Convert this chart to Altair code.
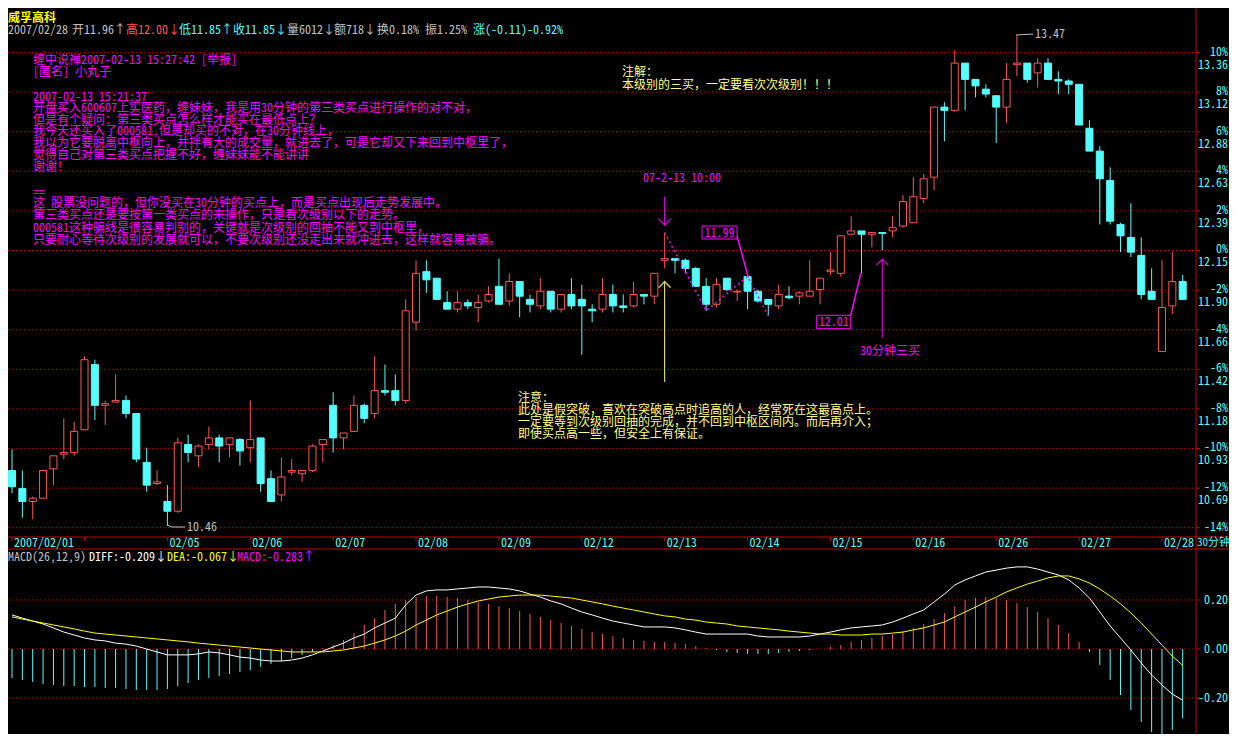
import altair as alt
import pandas as pd

# ---------------- data (30-minute bars, 威孚高科, 2007-02-01 .. 2007-02-28) ----------------
PREV_CLOSE = 12.15

OPEN = [10.80, 10.69, 10.61, 10.63, 10.81, 10.90, 10.91, 11.05, 11.45, 11.20,
        11.22, 11.23, 11.15, 10.85, 10.72, 10.61, 10.55, 10.96, 10.89, 10.96,
        11.00, 10.96, 10.99, 10.94, 11.00, 10.75, 10.65, 10.79, 10.78, 10.80,
        10.96, 11.20, 11.00, 11.04, 11.20, 11.15, 11.29, 11.29, 11.23, 11.71,
        12.02, 11.98, 11.83, 11.79, 11.83, 11.80, 11.84, 11.93, 11.84, 11.96,
        11.85, 11.81, 11.90, 11.79, 11.88, 11.85, 11.79, 11.79, 11.88, 11.81,
        11.81, 11.88, 11.87, 12.09, 12.10, 12.09, 12.04, 11.93, 11.82, 11.98,
        11.895, 11.99, 11.90, 11.85, 11.81, 11.87, 11.87, 11.87, 11.91, 12.02,
        12.01, 12.25, 12.27, 12.25, 12.26, 12.27, 12.30, 12.32, 12.47, 12.60,
        13.03, 13.01, 13.30, 13.20, 13.14, 13.10, 13.03, 13.29, 13.30, 13.24,
        13.30, 13.20, 13.19, 13.17, 12.90, 12.76, 12.58, 12.31, 12.23, 12.12,
        11.90, 11.53, 11.81, 11.96]
HIGH = [10.93, 10.80, 10.64, 10.80, 10.89, 11.12, 11.10, 11.50, 11.48, 11.23,
        11.39, 11.26, 11.15, 10.94, 10.80, 10.71, 11.00, 11.02, 10.96, 11.07,
        11.02, 11.00, 11.00, 11.23, 11.00, 10.80, 10.88, 10.87, 10.80, 10.96,
        10.99, 11.28, 11.03, 11.26, 11.21, 11.50, 11.45, 11.39, 11.85, 12.09,
        12.09, 11.98, 11.90, 11.90, 11.85, 11.88, 11.93, 12.10, 12.01, 11.96,
        11.88, 11.98, 11.90, 11.88, 11.98, 11.94, 11.82, 11.98, 11.94, 11.88,
        11.96, 11.88, 12.01, 12.26, 12.10, 12.10, 12.05, 11.98, 11.98, 11.98,
        11.91, 11.99, 11.91, 11.85, 11.94, 11.93, 11.90, 12.09, 11.98, 12.14,
        12.24, 12.36, 12.27, 12.26, 12.26, 12.36, 12.49, 12.60, 12.62, 13.03,
        13.06, 13.38, 13.30, 13.20, 13.17, 13.10, 13.30, 13.47, 13.30, 13.33,
        13.33, 13.25, 13.20, 13.17, 12.95, 12.79, 12.66, 12.32, 12.44, 12.23,
        12.04, 12.09, 12.14, 12.00]
LOW = [10.66, 10.51, 10.50, 10.63, 10.71, 10.87, 10.89, 11.05, 11.11, 11.08,
       11.22, 11.12, 10.85, 10.67, 10.71, 10.46, 10.54, 10.85, 10.82, 10.93,
       10.85, 10.88, 10.83, 10.85, 10.67, 10.61, 10.61, 10.77, 10.73, 10.79,
       10.85, 10.91, 10.93, 11.04, 11.09, 11.12, 11.26, 11.20, 11.21, 11.66,
       11.89, 11.85, 11.79, 11.77, 11.79, 11.71, 11.83, 11.82, 11.81, 11.74,
       11.77, 11.79, 11.77, 11.77, 11.79, 11.51, 11.71, 11.77, 11.77, 11.77,
       11.80, 11.82, 11.82, 12.04, 12.01, 12.01, 11.93, 11.78, 11.80, 11.90,
       11.84, 11.79, 11.83, 11.75, 11.79, 11.85, 11.82, 11.87, 11.82, 12.00,
       11.99, 12.25, 12.01, 12.17, 12.15, 12.23, 12.29, 12.32, 12.44, 12.52,
       12.82, 13.00, 13.01, 13.09, 13.09, 12.81, 12.93, 13.22, 13.18, 13.15,
       13.20, 13.11, 13.11, 12.92, 12.76, 12.31, 12.31, 12.14, 12.11, 11.85,
       11.85, 11.53, 11.76, 11.85]
CLOSE = [10.70, 10.61, 10.63, 10.80, 10.89, 10.91, 11.04, 11.48, 11.20, 11.21,
         11.23, 11.15, 10.87, 10.71, 10.73, 10.55, 10.97, 10.91, 10.95, 11.00,
         10.95, 11.00, 10.92, 10.99, 10.72, 10.61, 10.76, 10.80, 10.80, 10.95,
         10.99, 11.00, 11.03, 11.20, 11.12, 11.29, 11.28, 11.23, 11.78, 12.01,
         11.97, 11.85, 11.79, 11.83, 11.81, 11.83, 11.88, 11.82, 11.96, 11.87,
         11.82, 11.90, 11.79, 11.88, 11.81, 11.81, 11.78, 11.88, 11.81, 11.80,
         11.88, 11.87, 12.01, 12.10, 12.09, 12.04, 11.93, 11.82, 11.94, 11.91,
         11.90, 11.90, 11.84, 11.82, 11.88, 11.86, 11.89, 11.90, 11.98, 12.03,
         12.24, 12.27, 12.25, 12.26, 12.255, 12.29, 12.45, 12.48, 12.59, 13.03,
         13.01, 13.30, 13.20, 13.16, 13.11, 13.03, 13.20, 13.30, 13.20, 13.30,
         13.20, 13.19, 13.17, 12.92, 12.76, 12.59, 12.33, 12.24, 12.14, 11.88,
         11.85, 11.80, 11.96, 11.85]

DIFF = [0.139, 0.126, 0.114, 0.102, 0.086, 0.069, 0.057, 0.045, 0.037, 0.033,
        0.024, 0.020, 0.012, 0.000, -0.012, -0.024, -0.024, -0.024, -0.020, -0.012,
        -0.016, -0.024, -0.033, -0.037, -0.045, -0.049, -0.049, -0.045, -0.037, -0.024,
        -0.008, 0.008, 0.024, 0.045, 0.061, 0.086, 0.106, 0.126, 0.180, 0.220,
        0.237, 0.241, 0.241, 0.245, 0.249, 0.253, 0.253, 0.249, 0.245, 0.237,
        0.224, 0.212, 0.196, 0.184, 0.167, 0.151, 0.139, 0.126, 0.114, 0.106,
        0.098, 0.090, 0.090, 0.090, 0.086, 0.078, 0.069, 0.061, 0.061, 0.061,
        0.061, 0.061, 0.053, 0.049, 0.049, 0.049, 0.049, 0.053, 0.061, 0.069,
        0.078, 0.086, 0.090, 0.094, 0.098, 0.110, 0.126, 0.143, 0.159, 0.192,
        0.224, 0.261, 0.282, 0.298, 0.314, 0.322, 0.330, 0.335, 0.335, 0.326,
        0.314, 0.302, 0.282, 0.249, 0.208, 0.151, 0.094, 0.045, -0.004, -0.057,
        -0.106, -0.147, -0.184, -0.209]
DEA = [0.131, 0.122, 0.114, 0.106, 0.098, 0.090, 0.082, 0.073, 0.065, 0.061,
       0.057, 0.053, 0.049, 0.045, 0.041, 0.037, 0.033, 0.029, 0.024, 0.020,
       0.016, 0.012, 0.008, 0.004, 0.000, -0.004, -0.008, -0.012, -0.012, -0.012,
       -0.012, -0.008, -0.004, 0.004, 0.012, 0.024, 0.037, 0.053, 0.073, 0.098,
       0.118, 0.139, 0.155, 0.171, 0.184, 0.196, 0.204, 0.212, 0.216, 0.220,
       0.220, 0.220, 0.216, 0.212, 0.208, 0.200, 0.192, 0.184, 0.175, 0.167,
       0.159, 0.151, 0.143, 0.135, 0.131, 0.122, 0.118, 0.110, 0.106, 0.102,
       0.094, 0.090, 0.086, 0.082, 0.078, 0.073, 0.069, 0.065, 0.061, 0.061,
       0.057, 0.057, 0.057, 0.061, 0.061, 0.065, 0.069, 0.078, 0.086, 0.098,
       0.110, 0.131, 0.151, 0.171, 0.192, 0.212, 0.233, 0.249, 0.265, 0.277,
       0.290, 0.298, 0.298, 0.286, 0.269, 0.245, 0.216, 0.184, 0.147, 0.106,
       0.061, 0.016, -0.029, -0.067]
MACD = [-0.118, -0.126, -0.135, -0.143, -0.147, -0.151, -0.151, -0.155, -0.155, -0.159,
        -0.159, -0.163, -0.167, -0.167, -0.167, -0.163, -0.151, -0.139, -0.126, -0.118,
        -0.110, -0.102, -0.094, -0.086, -0.073, -0.061, -0.049, -0.037, -0.024, -0.012,
        0.004, 0.016, 0.037, 0.065, 0.098, 0.126, 0.159, 0.184, 0.200, 0.212,
        0.216, 0.216, 0.212, 0.208, 0.200, 0.192, 0.184, 0.175, 0.167, 0.155,
        0.143, 0.131, 0.118, 0.106, 0.094, 0.082, 0.069, 0.061, 0.053, 0.045,
        0.037, 0.033, 0.029, 0.029, 0.024, 0.020, 0.012, 0.004, -0.004, -0.012,
        -0.016, -0.020, -0.020, -0.020, -0.016, -0.012, -0.008, -0.004, 0.000, 0.008,
        0.016, 0.029, 0.037, 0.045, 0.053, 0.061, 0.073, 0.086, 0.102, 0.122,
        0.147, 0.175, 0.200, 0.208, 0.212, 0.208, 0.200, 0.188, 0.171, 0.151,
        0.126, 0.098, 0.065, 0.029, -0.012, -0.065, -0.126, -0.188, -0.249, -0.298,
        -0.339, -0.371, -0.330, -0.283]

DATE_BARS = [1, 8, 16, 24, 32, 40, 48, 56, 64, 72, 80, 88, 96, 104, 112]
DATE_LABELS = ["2007/02/01", "", "02/05", "02/06", "02/07", "02/08", "02/09", "02/12",
               "02/13", "02/14", "02/15", "02/16", "02/26", "02/27", "02/28"]

PCT_TICKS = [10, 8, 6, 4, 2, 0, -2, -4, -6, -8, -10, -12, -14]
PRICE_LABELS = ["13.36", "13.12", "12.88", "12.63", "12.39", "12.15", "11.90",
                "11.66", "11.42", "11.18", "10.93", "10.69", ""]
MACD_TICKS = [0.20, 0.00, -0.20]

# annotation content
ZIGZAG_BARS = [64, 68, 72, 74]
ZIGZAG_PRICES = [12.26, 11.78, 11.99, 11.75]
MAGENTA_LINES = [
    "缠中说禅2007-02-13 15:27:42 [举报]",
    "[匿名] 小丸子",
    "2007-02-13 15:21:37",
    "开盘买入600607上实医药，缠妹妹，我是用30分钟的第三类买点进行操作的对不对，",
    "但是有个疑问：第三类买点怎么样才能买在最低点上？",
    "我今天还买入了000581,但是却买的不对，在30分钟线上，",
    "我以为它要脱离中枢向上，并拌有大的成交量，就进去了，可是它却又下来回到中枢里了，",
    "觉得自己对第三类买点把握不好，缠妹妹能不能讲讲",
    "谢谢！",
    "==",
    "这 股票没问题的，但你没买在30分钟的买点上，而是买点出现后走势发展中。",
    "第三类买点还是要按第一类买点的来操作，只是看次级别以下的走势。",
    "000581这种骗线是很容易判别的，关键就是次级别的回抽不能又到中枢里，",
    "只要耐心等待次级别的发展就可以，不要次级别还没走出来就冲进去，这样就容易被骗。",
]
YELLOW_TOP = ["注解：", "本级别的三买，一定要看次次级别！！！"]
YELLOW_BOTTOM = ["注意：",
                 "此处是假突破，喜欢在突破高点时追高的人，经常死在这最高点上。",
                 "一定要等到次级别回抽的完成，并不回到中枢区间内。而后再介入；",
                 "即使买点高一些，但安全上有保证。"]

# ---------------- layout / style ----------------
W, H = 1221, 726
XDOM = [0.6139, 118.47]
PDOM = [9.1830, 13.6381]
MDOM = [-0.3468, 2.6153]
PANEL_R = 1188
DATE_TOP, DATE_BOT = 529, 541

RED = "#FF5454"
CYAN = "#54FCFC"
GRID = "#C00000"
FRAME = "#C80000"
MAG = "#FF00FF"
YEL = "#FFFF80"
GREY = "#C0C0C0"
FONT = "'Noto Sans Mono CJK SC', 'Noto Sans CJK SC', 'DejaVu Sans Mono', monospace"

xs = alt.Scale(domain=XDOM, nice=False, zero=False)
ps = alt.Scale(domain=PDOM, nice=False, zero=False)
ms = alt.Scale(domain=MDOM, nice=False, zero=False)
XPX = alt.X("x:Q", scale=None, axis=None)
YPX = alt.Y("y:Q", scale=None, axis=None)


def text_px(xl, yl, texts, color, align="left", size=12, weight="normal"):
    df = pd.DataFrame({"x": xl, "y": yl, "t": texts})
    return alt.Chart(df).mark_text(align=align, baseline="middle", color=color, fontSize=size,
                                   font=FONT, fontWeight=weight).encode(x=XPX, y=YPX, text="t:N")


def rules_px(x1, x2, y1, y2, color, dash=None, width=1):
    df = pd.DataFrame({"x": x1, "x2": x2, "y": y1, "y2": y2})
    kw = dict(color=color, strokeWidth=width)
    if dash:
        kw["strokeDash"] = dash
    return alt.Chart(df).mark_rule(**kw).encode(x=XPX, x2="x2:Q", y=YPX, y2="y2:Q")


def poly_px(xl, yl, color, dash=None, width=1):
    df = pd.DataFrame({"x": xl, "y": yl, "k": list(range(len(xl)))})
    kw = dict(color=color, strokeWidth=width)
    if dash:
        kw["strokeDash"] = dash
    return alt.Chart(df).mark_line(**kw).encode(x=XPX, y=YPX, order="k:Q")


def box_px(x1, x2, y1, y2, color):
    df = pd.DataFrame({"x": [x1], "x2": [x2], "y": [y1], "y2": [y2]})
    return alt.Chart(df).mark_rect(fill="black", stroke=color, strokeWidth=1).encode(
        x=XPX, x2="x2:Q", y=YPX, y2="y2:Q")


N = len(OPEN)
idx = list(range(1, N + 1))
candles = pd.DataFrame({"i": idx, "o": OPEN, "h": HIGH, "l": LOW, "c": CLOSE})
candles["dir"] = ["up" if c >= o else "down" for o, c in zip(OPEN, CLOSE)]
macd = pd.DataFrame({"i": idx, "diff": DIFF, "dea": DEA, "m": MACD, "z": [0.0] * N})
macd["sgn"] = ["pos" if v >= 0 else "neg" for v in MACD]

dir_stroke = alt.Scale(domain=["up", "down"], range=[RED, CYAN])
dir_fill = alt.Scale(domain=["up", "down"], range=["#000000", CYAN])

layers = []

# frame lines
layers.append(rules_px([0, 0], [W, W], [DATE_TOP, DATE_BOT], [DATE_TOP, DATE_BOT], FRAME))
layers.append(rules_px([PANEL_R], [PANEL_R], [0], [H], FRAME))

# price grid
gdf = pd.DataFrame({"pct": PCT_TICKS, "plab": PRICE_LABELS})
gdf["level"] = PREV_CLOSE * (1 + gdf["pct"] / 100.0)
gdf["pctlab"] = [f"{p}%" for p in PCT_TICKS]
gy = alt.Y("level:Q", scale=ps, axis=None)
layers.append(alt.Chart(gdf[gdf.pct != 0]).mark_rule(color=GRID, strokeDash=[1, 3]).encode(
    y=gy, x=alt.value(0), x2=alt.value(PANEL_R)))
layers.append(alt.Chart(gdf[gdf.pct == 0]).mark_rule(color=GRID, strokeDash=[2, 2]).encode(
    y=gy, x=alt.value(0), x2=alt.value(PANEL_R)))
layers.append(alt.Chart(gdf).mark_rule(color=FRAME).encode(
    y=gy, x=alt.value(PANEL_R), x2=alt.value(PANEL_R + 4)))
layers.append(alt.Chart(gdf).mark_text(align="right", baseline="middle", dy=-1, color=CYAN,
                                       fontSize=12, font=FONT).encode(
    y=gy, x=alt.value(W - 1), text="pctlab:N"))
layers.append(alt.Chart(gdf).mark_text(align="right", baseline="middle", dy=12, color=CYAN,
                                       fontSize=12, font=FONT).encode(
    y=gy, x=alt.value(W - 1), text="plab:N"))

# macd grid
mdf = pd.DataFrame({"v": MACD_TICKS})
mdf["lab"] = [f"{v:.2f}" for v in MACD_TICKS]
my = alt.Y("v:Q", scale=ms, axis=None)
layers.append(alt.Chart(mdf).mark_rule(color=GRID, strokeDash=[1, 3]).encode(
    y=my, x=alt.value(0), x2=alt.value(PANEL_R)))
layers.append(alt.Chart(mdf).mark_rule(color=FRAME).encode(
    y=my, x=alt.value(PANEL_R), x2=alt.value(PANEL_R + 4)))
layers.append(alt.Chart(mdf).mark_text(align="right", baseline="middle", color=CYAN,
                                       fontSize=12, font=FONT).encode(
    y=my, x=alt.value(W - 1), text="lab:N"))

# date axis
ddf = pd.DataFrame({"i": DATE_BARS, "lab": DATE_LABELS})
layers.append(alt.Chart(ddf).mark_rule(color=FRAME).encode(
    x=alt.X("i:Q", scale=xs, axis=None), y=alt.value(DATE_TOP), y2=alt.value(DATE_TOP + 4)))
layers.append(alt.Chart(ddf).mark_text(align="left", baseline="middle", dx=2, color=CYAN,
                                       fontSize=12, font=FONT).encode(
    x=alt.X("i:Q", scale=xs, axis=None), y=alt.value(535), text="lab:N"))
layers.append(text_px([PANEL_R + 1], [535], ["30分钟"], CYAN, size=11))

# candles
layers.append(alt.Chart(candles).mark_rule(strokeWidth=1).encode(
    x=alt.X("i:Q", scale=xs, axis=None), y=alt.Y("l:Q", scale=ps, axis=None), y2="h:Q",
    color=alt.Color("dir:N", scale=dir_stroke, legend=None)))
layers.append(alt.Chart(candles).transform_calculate(
    xl="datum.i - 0.34", xr="datum.i + 0.34").mark_rect(strokeWidth=1).encode(
    x=alt.X("xl:Q", scale=xs, axis=None), x2="xr:Q",
    y=alt.Y("o:Q", scale=ps, axis=None), y2="c:Q",
    fill=alt.Fill("dir:N", scale=dir_fill, legend=None),
    stroke=alt.Stroke("dir:N", scale=dir_stroke, legend=None)))

# macd
layers.append(alt.Chart(macd).mark_rule(strokeWidth=1).encode(
    x=alt.X("i:Q", scale=xs, axis=None), y=alt.Y("z:Q", scale=ms, axis=None), y2="m:Q",
    color=alt.Color("sgn:N", scale=alt.Scale(domain=["pos", "neg"], range=[RED, CYAN]), legend=None)))
layers.append(alt.Chart(macd).mark_line(color="#FFFFFF", strokeWidth=1).encode(
    x=alt.X("i:Q", scale=xs, axis=None), y=alt.Y("diff:Q", scale=ms, axis=None)))
layers.append(alt.Chart(macd).mark_line(color="#FFFF00", strokeWidth=1).encode(
    x=alt.X("i:Q", scale=xs, axis=None), y=alt.Y("dea:Q", scale=ms, axis=None)))

# title / headers
layers.append(text_px([0], [9.5], ["威孚高科"], "#FFFF00", size=12, weight="bold"))
hdr = [(("2007/02/28"), GREY, 0),
       (f"开{OPEN[-1]:.2f}↑", GREY, 64),
       (f"高{HIGH[-1]:.2f}↓", RED, 118),
       (f"低{LOW[-1]:.2f}↑", CYAN, 171),
       (f"收{CLOSE[-1]:.2f}↓", CYAN, 225),
       ("量6012↓", GREY, 279),
       ("额718↓", GREY, 326),
       ("换0.18%", GREY, 369),
       ("振1.25%", GREY, 417),
       ("涨(-0.11)-0.92%", CYAN, 465)]
for t, col, x in hdr:
    layers.append(text_px([x], [22], [t], col))
mh = [("MACD(26,12,9)", GREY, 0),
      (f"DIFF:{DIFF[-1]:.3f}↓", "#FFFFFF", 81),
      (f"DEA:{DEA[-1]:.3f}↓", "#FFFF00", 159),
      (f"MACD:{MACD[-1]:.3f}↑", MAG, 229)]
for t, col, x in mh:
    layers.append(text_px([x], [549], [t], col))

# annotation texts
mag_y = [52, 64, 88.5, 100, 111.5, 123, 135, 147, 159, 183.5, 195, 207, 219.5, 231.5]
layers.append(text_px([25] * len(MAGENTA_LINES), mag_y, MAGENTA_LINES, MAG))
layers.append(text_px([614, 614], [64, 77], YELLOW_TOP, YEL))
layers.append(text_px([510] * 4, [390, 402, 414, 426], YELLOW_BOTTOM, YEL))
layers.append(text_px([635], [170], ["07-2-13  10:00"], MAG))
layers.append(text_px([852], [343], ["30分钟三买"], MAG))

# zigzag dotted line through the swing points
zz = pd.DataFrame({"i": ZIGZAG_BARS, "p": ZIGZAG_PRICES, "k": list(range(len(ZIGZAG_BARS)))})
layers.append(alt.Chart(zz).mark_line(color=MAG, strokeDash=[2, 3], strokeWidth=1.5).encode(
    x=alt.X("i:Q", scale=xs, axis=None), y=alt.Y("p:Q", scale=ps, axis=None), order="k:Q"))

# arrows (shaft + head) anchored on bars and prices
arr = pd.DataFrame({"i": [64, 64, 85], "p1": [12.48, 11.343, 11.615],
                    "p2": [12.306, 11.959, 12.096], "col": [MAG, YEL, MAG],
                    "kind": ["down", "up", "up"]})
layers.append(alt.Chart(arr).mark_rule(strokeWidth=1).encode(
    x=alt.X("i:Q", scale=xs, axis=None), y=alt.Y("p1:Q", scale=ps, axis=None), y2="p2:Q",
    color=alt.Color("col:N", scale=None)))
layers.append(alt.Chart(arr[arr.kind == "down"]).mark_point(
    shape="M-1,-1L0,0L1,-1", filled=False, size=169, strokeWidth=1.5).encode(
    x=alt.X("i:Q", scale=xs, axis=None), y=alt.Y("p2:Q", scale=ps, axis=None),
    color=alt.Color("col:N", scale=None)))
layers.append(alt.Chart(arr[arr.kind == "up"]).mark_point(
    shape="M-1,1L0,0L1,1", filled=False, size=144, strokeWidth=1.5).encode(
    x=alt.X("i:Q", scale=xs, axis=None), y=alt.Y("p2:Q", scale=ps, axis=None),
    color=alt.Color("col:N", scale=None)))

# labelled boxes with leader lines
layers.append(poly_px([728.7, 740.3], [227, 269.3], MAG, width=1.5))
layers.append(box_px(694, 729, 218, 231, MAG))
layers.append(text_px([711.5], [224.5], ["11.99"], MAG, align="center"))
layers.append(poly_px([842.7, 852.9], [307.3, 265.3], MAG, width=1.5))
layers.append(box_px(808.7, 842.7, 307.3, 320.7, MAG))
layers.append(text_px([825.7], [314], ["12.01"], MAG, align="center"))

# extreme price labels
layers.append(poly_px([1008, 1025], [27, 26], GREY))
layers.append(text_px([1027], [26], [f"{max(HIGH):.2f}"], GREY))
layers.append(poly_px([159, 164, 177], [517, 519, 519], GREY))
layers.append(text_px([179], [519], [f"{min(LOW):.2f}"], GREY))

chart = alt.layer(*layers).resolve_scale(
    x="independent", y="independent", color="independent", fill="independent",
    stroke="independent").properties(
    width=W, height=H, padding=0, background="black",
    autosize=alt.AutoSizeParams(type="none")).configure_view(stroke=None)

chart.save("out.html", embed_options={"renderer": "svg", "actions": False})
